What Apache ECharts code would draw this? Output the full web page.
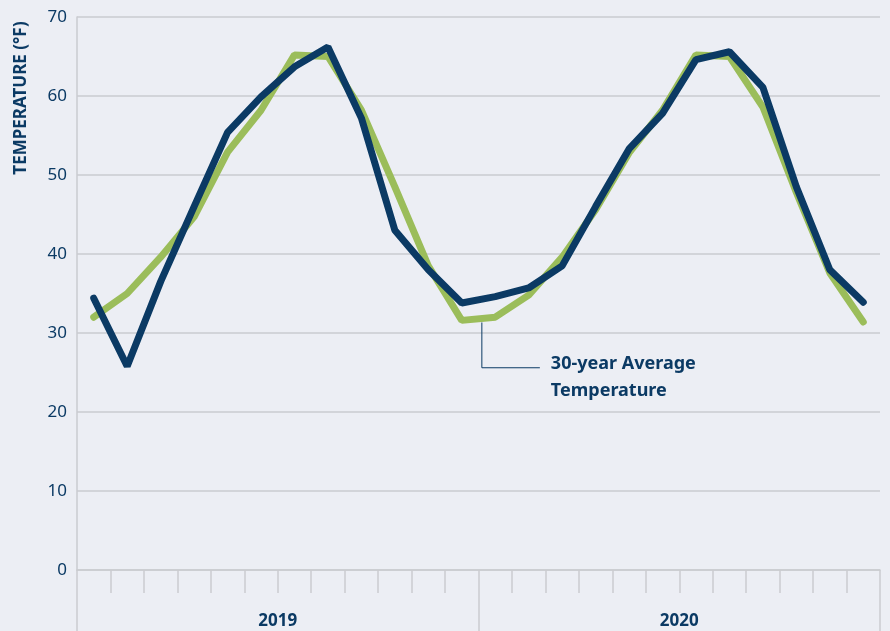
<!DOCTYPE html>
<html>
<head>
<meta charset="utf-8">
<script src="https://cdn.jsdelivr.net/npm/echarts@6/dist/echarts.min.js"></script>
<style>
  html, body { margin: 0; padding: 0; background: #eceef4; }
  #main { width: 890px; height: 631px; }
</style>
</head>
<body>
<div id="main"></div>
<script>
var months = ['Jan', 'Feb', 'Mar', 'Apr', 'May', 'Jun', 'Jul', 'Aug', 'Sep', 'Oct', 'Nov', 'Dec',
  'Jan', 'Feb', 'Mar', 'Apr', 'May', 'Jun', 'Jul', 'Aug', 'Sep', 'Oct', 'Nov', 'Dec'];
var years = ['2019', '2020'];
var actual = [34.4, 25.8, 36.5, 46.0, 55.4, 59.9, 63.7, 66.2, 57.2, 43.0, 38.0, 33.8,
  34.6, 35.7, 38.5, 46.0, 53.3, 57.8, 64.6, 65.6, 61.1, 48.5, 38.0, 33.9];
var average = [32.0, 35.0, 39.6, 44.7, 52.9, 58.2, 65.2, 65.0, 58.2, 48.5, 38.5, 31.6,
  32.0, 34.8, 39.6, 45.6, 52.8, 58.2, 65.2, 65.0, 58.6, 47.8, 37.6, 31.4];
var yTicks = [0, 10, 20, 30, 40, 50, 60, 70];

var navy = '#0b3a64';
var green = '#9bbd5a';
var gridGray = '#cacbd0';
var font = 'Noto Sans';

var chartDom = document.getElementById('main');
var myChart = echarts.init(chartDom);
var option;
option = {
	backgroundColor: '#eceef4',
	animation: false,
	grid: {left: 77, right: 10, top: 17, bottom: 61},
	xAxis: [
		{
			type: 'category',
			data: months,
			boundaryGap: true,
			axisLine: {show: true, lineStyle: {color: gridGray, width: 1.5}},
			axisTick: {show: true, length: 23, lineStyle: {color: gridGray, width: 1.5}},
			axisLabel: {show: false}
		},
		{
			type: 'category',
			data: years,
			position: 'bottom',
			boundaryGap: true,
			axisLine: {show: false},
			axisTick: {show: true, length: 61, lineStyle: {color: gridGray, width: 1.5}},
			axisLabel: {
				show: true,
				margin: 43,
				color: navy,
				fontFamily: font,
				fontWeight: 'bold',
				fontSize: 17
			}
		}
	],
	yAxis: {
		type: 'value',
		min: yTicks[0],
		max: yTicks[yTicks.length - 1],
		interval: 10,
		axisLine: {show: true, lineStyle: {color: gridGray, width: 1.5}},
		axisTick: {show: false},
		splitLine: {show: true, lineStyle: {color: gridGray, width: 1.5}},
		axisLabel: {
			margin: 10,
			color: navy,
			fontFamily: font,
			fontSize: 17
		}
	},
	series: [
		{
			name: '30-year Average Temperature',
			type: 'line',
			data: average,
			symbol: 'none',
			lineStyle: {color: green, width: 7, cap: 'round'},
			z: 2
		},
		{
			name: 'Temperature',
			type: 'line',
			data: actual,
			symbol: 'none',
			lineStyle: {color: navy, width: 7, cap: 'round'},
			z: 3
		}
	]
};

option && myChart.setOption(option);

// callout for the 30-year average line, placed from the axis scales
var t = 0.6;
var p11 = myChart.convertToPixel({xAxisIndex: 0, yAxisIndex: 0}, [11, average[11]]);
var p12 = myChart.convertToPixel({xAxisIndex: 0, yAxisIndex: 0}, [12, average[12]]);
var ax = p11[0] + (p12[0] - p11[0]) * t;
var ay = p11[1] + (p12[1] - p11[1]) * t + 4;
var elbowY = myChart.convertToPixel({yAxisIndex: 0}, 25.6);

myChart.setOption({
	graphic: [
		{
			type: 'text',
			x: 21,
			y: 98,
			rotation: Math.PI / 2,
			style: {
				text: 'TEMPERATURE (°F)',
				fill: navy,
				font: 'bold 17px "Noto Sans"',
				textAlign: 'center',
				textVerticalAlign: 'middle'
			}
		},
		{
			type: 'polyline',
			shape: {points: [[ax, ay], [ax, elbowY], [ax + 58, elbowY]]},
			style: {stroke: navy, lineWidth: 1, fill: null},
			z: 10
		},
		{
			type: 'text',
			x: ax + 69,
			y: elbowY + 10,
			style: {
				text: '30-year Average\nTemperature',
				fill: navy,
				font: 'bold 18px "Noto Sans"',
				lineHeight: 27,
				textVerticalAlign: 'middle'
			},
			z: 10
		}
	]
});
</script>
</body>
</html>
